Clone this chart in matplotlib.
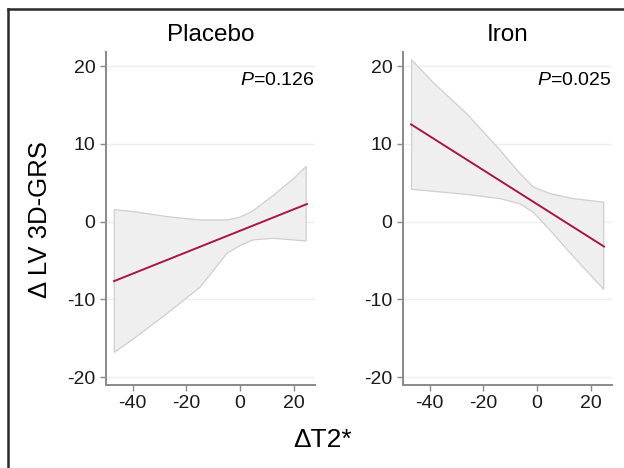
import matplotlib
matplotlib.use("Agg")
import matplotlib.pyplot as plt
from matplotlib.lines import Line2D

plt.rcParams['font.family'] = ['Liberation Sans', 'DejaVu Sans']
plt.rcParams['mathtext.fontset'] = 'custom'
plt.rcParams['mathtext.it'] = 'Liberation Sans:italic'
plt.rcParams['mathtext.rm'] = 'Liberation Sans'
plt.rcParams['axes.unicode_minus'] = False

# Data
groups = ["Placebo", "Iron"]
p_labels = ["0.126", "0.025"]

line_x = [-47, 25]
placebo_line = [-7.65, 2.26]
iron_line = [12.5, -3.2]

placebo_up_x = [-46.9, -39.5, -27.2, -14.8, -4.9, 0, 4.9, 12.3, 19.8, 24.7]
placebo_up = [1.54, 1.28, 0.64, 0.21, 0.21, 0.56, 1.41, 3.33, 5.47, 7.09]
placebo_lo_x = [-46.9, -39.5, -27.2, -14.8, -4.9, 0, 4.9, 12.3, 19.8, 24.7]
placebo_lo = [-16.8, -15.0, -11.8, -8.4, -4.1, -3.08, -2.35, -2.14, -2.35, -2.5]

iron_up_x = [-46.8, -38.8, -26.3, -13.8, -6.4, -1.4, 4.9, 13.6, 24.9]
iron_up = [20.8, 17.9, 13.9, 9.2, 6.2, 4.45, 3.6, 2.95, 2.5]
iron_lo_x = [-46.8, -38.8, -26.3, -13.8, -6.4, -1.4, 4.9, 13.6, 24.9]
iron_lo = [4.15, 3.9, 3.5, 2.95, 2.3, 1.2, -1.1, -4.5, -8.7]

x_ticks = [-40, -20, 0, 20]
y_ticks = [-20, -10, 0, 10, 20]

lines = [placebo_line, iron_line]
bands = [(placebo_up_x, placebo_up, placebo_lo_x, placebo_lo),
         (iron_up_x, iron_up, iron_lo_x, iron_lo)]

fig = plt.figure(figsize=(6.24, 4.68), dpi=100)
W, H = 624, 468
boxes = [(106, 315), (403, 612)]
top_px, bot_px = 52, 385

for i, (l, r) in enumerate(boxes):
    ax = fig.add_axes([l / W, 1 - bot_px / H, (r - l) / W, (bot_px - top_px) / H])
    ux, uy, lx, ly = bands[i]
    poly_x = list(ux) + list(lx[::-1])
    poly_y = list(uy) + list(ly[::-1])
    ax.fill(poly_x, poly_y, facecolor='#efefef', edgecolor='#cfcfcf', linewidth=0.9,
            joinstyle='round', zorder=2)
    ax.plot(line_x, lines[i], color='#a8173f', linewidth=1.4, zorder=3)

    ax.set_xlim(-50, 28)
    ax.set_ylim(-21, 21.8)
    ax.set_xticks(x_ticks)
    ax.set_yticks(y_ticks)
    ax.yaxis.grid(True, color='#eeeeee', linewidth=1)
    ax.set_axisbelow(True)
    for s in ['top', 'right']:
        ax.spines[s].set_visible(False)
    for s in ['left', 'bottom']:
        ax.spines[s].set_color('#8a8a8a')
        ax.spines[s].set_linewidth(1.4)
    ax.tick_params(colors='#8a8a8a', labelcolor='#1a1a1a', labelsize=14, length=4, width=1)
    ax.set_title(groups[i], fontsize=17.5, pad=8)
    ax.text(0.997, 0.915, "$\\it{P}$=" + p_labels[i], transform=ax.transAxes,
            ha='right', va='center', fontsize=14)

fig.text(40 / W, 1 - 220 / H, "\u0394 LV 3D-GRS", rotation=90, ha='center', va='center', fontsize=18.5)
fig.text(323 / W, 1 - 440 / H, "\u0394T2*", ha='center', va='center', fontsize=19)

# frame around the figure (only left and top visible in the crop)
fig.add_artist(Line2D([8 / W, 8 / W], [0, 1 - 9 / H], color='#2a2a2a', linewidth=1.8))
fig.add_artist(Line2D([8 / W, 1.01], [1 - 9 / H, 1 - 9 / H], color='#2a2a2a', linewidth=1.8))

fig.savefig("out.png", dpi=100)
